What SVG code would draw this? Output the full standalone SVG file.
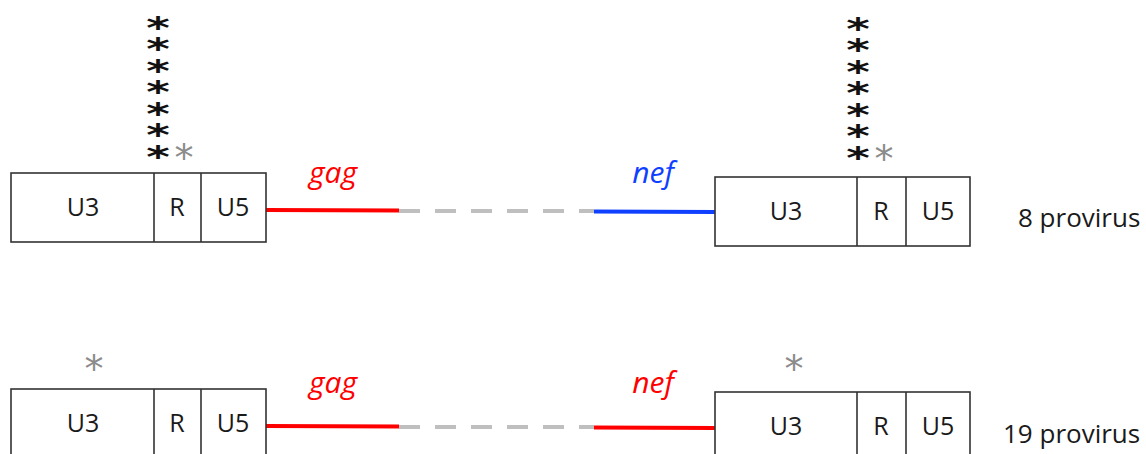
<svg xmlns="http://www.w3.org/2000/svg" width="1146" height="454" viewBox="0 0 1146 454">
<style>
.box{fill:#fff;stroke:#333;stroke-width:1.6}
.div{stroke:#333;stroke-width:1.6}
.lbl{font-family:"Open Sans","Liberation Sans",sans-serif;font-size:25px;fill:#1a1a1a;text-anchor:middle}
.side{font-family:"Open Sans","Liberation Sans",sans-serif;font-size:26px;fill:#1a1a1a}
.gene{font-family:"Open Sans","Liberation Sans",sans-serif;font-size:30px;font-style:italic;text-anchor:middle}
.star{font-family:"DejaVu Sans",sans-serif;font-size:30px;font-weight:bold;fill:#111;text-anchor:middle}
.gstar{font-family:"DejaVu Sans",sans-serif;font-size:38px;fill:#8c8c8c;text-anchor:middle}
.dash{stroke:#bfbfbf;stroke-width:4;stroke-dasharray:21 15;fill:none}
.red{stroke:#ff0000;stroke-width:4;fill:none}
.blue{stroke:#1040ff;stroke-width:4;fill:none}
</style>
<g id="connectors">
<line class="red" x1="266" y1="210" x2="399" y2="210.5"/>
<line class="dash" x1="399" y1="211" x2="594" y2="211"/>
<line class="blue" x1="594" y1="211.5" x2="715" y2="212"/>
<line class="red" x1="266" y1="426" x2="399" y2="426.5"/>
<line class="dash" x1="399" y1="427" x2="594" y2="427"/>
<line class="red" x1="594" y1="427.5" x2="715" y2="428"/>
</g>
<g id="ltr-top-left">
<rect class="box" x="11" y="173" width="255" height="69"/>
<line class="div" x1="154" y1="173" x2="154" y2="242"/>
<line class="div" x1="201" y1="173" x2="201" y2="242"/>
<text class="lbl" x="83" y="216">U3</text>
<text class="lbl" x="177" y="216">R</text>
<text class="lbl" x="233" y="216">U5</text>
</g>
<g id="stars-top-left">
<text class="star" transform="translate(158,0) scale(1.5,1)"><tspan x="0" y="38">*</tspan><tspan x="0" dy="21.5">*</tspan><tspan x="0" dy="21.5">*</tspan><tspan x="0" dy="21.5">*</tspan><tspan x="0" dy="21.5">*</tspan><tspan x="0" dy="21.5">*</tspan><tspan x="0" dy="21.5">*</tspan></text>
<text class="gstar" x="184" y="171">*</text>
</g>
<g id="ltr-top-right">
<rect class="box" x="715" y="177" width="255" height="69"/>
<line class="div" x1="857" y1="177" x2="857" y2="246"/>
<line class="div" x1="906" y1="177" x2="906" y2="246"/>
<text class="lbl" x="786" y="220">U3</text>
<text class="lbl" x="881" y="220">R</text>
<text class="lbl" x="938" y="220">U5</text>
</g>
<g id="stars-top-right">
<text class="star" transform="translate(858,0) scale(1.5,1)"><tspan x="0" y="39">*</tspan><tspan x="0" dy="21.5">*</tspan><tspan x="0" dy="21.5">*</tspan><tspan x="0" dy="21.5">*</tspan><tspan x="0" dy="21.5">*</tspan><tspan x="0" dy="21.5">*</tspan><tspan x="0" dy="21.5">*</tspan></text>
<text class="gstar" x="884" y="172">*</text>
</g>
<g id="label-8">
<text class="side" x="1018" y="227">8 provirus</text>
</g>
<g id="genes-top">
<text class="gene" x="333" y="183" fill="#ff0000">gag</text>
<text class="gene" x="653" y="183" fill="#1040ff">nef</text>
</g>
<g id="ltr-bottom-left">
<rect class="box" x="11" y="389" width="255" height="69"/>
<line class="div" x1="154" y1="389" x2="154" y2="458"/>
<line class="div" x1="201" y1="389" x2="201" y2="458"/>
<text class="lbl" x="83" y="432">U3</text>
<text class="lbl" x="177" y="432">R</text>
<text class="lbl" x="233" y="432">U5</text>
<text class="gstar" x="94" y="382">*</text>
</g>
<g id="ltr-bottom-right">
<rect class="box" x="715" y="392" width="255" height="69"/>
<line class="div" x1="857" y1="392" x2="857" y2="461"/>
<line class="div" x1="906" y1="392" x2="906" y2="461"/>
<text class="lbl" x="786" y="435">U3</text>
<text class="lbl" x="881" y="435">R</text>
<text class="lbl" x="938" y="435">U5</text>
<text class="gstar" x="794" y="382">*</text>
</g>
<g id="label-19">
<text class="side" x="1003" y="443">19 provirus</text>
</g>
<g id="genes-bottom">
<text class="gene" x="333" y="393" fill="#ff0000">gag</text>
<text class="gene" x="653" y="393" fill="#ff0000">nef</text>
</g>
</svg>
